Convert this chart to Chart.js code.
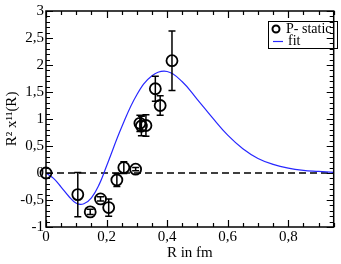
<!DOCTYPE html>
<html>
<head>
<meta charset="utf-8">
<script src="https://cdn.jsdelivr.net/npm/chart.js@4.4.1/dist/chart.umd.min.js"></script>
<style>
  html, body { margin: 0; padding: 0; background: #fff; }
  canvas { display: block; }
</style>
</head>
<body>
<canvas id="chart" width="341" height="264"></canvas>
<script>
// measured points (P- static)
const staticX = [0, 0.105, 0.146, 0.18, 0.207, 0.234, 0.257, 0.296, 0.31, 0.315, 0.33, 0.361, 0.377, 0.416];
const staticY = [0, -0.4, -0.72, -0.48, -0.64, -0.13, 0.1, 0.07, 0.92, 0.87, 0.88, 1.56, 1.25, 2.08];
const staticErr = [0, 0.41, 0.05, 0.04, 0.16, 0.12, 0.11, 0.03, 0.15, 0.18, 0.2, 0.23, 0.18, 0.55];

// fit curve
const fitX = [0, 0.025, 0.05, 0.075, 0.1, 0.125, 0.15, 0.175, 0.2, 0.25, 0.3, 0.35, 0.4, 0.45, 0.5, 0.55, 0.6, 0.65, 0.7, 0.75, 0.8, 0.85, 0.9, 0.95];
const fitY = [0, -0.1, -0.26, -0.43, -0.56, -0.57, -0.46, -0.22, 0.13, 0.85, 1.45, 1.8, 1.88, 1.69, 1.36, 1.02, 0.7, 0.45, 0.27, 0.16, 0.09, 0.05, 0.03, 0.01];

// axes
const xTicks = [0, 0.2, 0.4, 0.6, 0.8];
const yTicks = [-1, -0.5, 0, 0.5, 1, 1.5, 2, 2.5, 3];
const xRange = [0, 0.95];
const yRange = [-1, 3];

const serif = "'Liberation Serif', 'DejaVu Serif', serif";
const fmt = v => String(v).replace(".", ",");

// frame + inward ticks on all four sides
const framePlugin = {
  id: "frame",
  afterDraw(chart) {
    const { ctx, chartArea: a, scales } = chart;
    ctx.save();
    ctx.strokeStyle = "#000";
    ctx.lineWidth = 1.5;
    ctx.strokeRect(a.left, a.top, a.right - a.left, a.bottom - a.top);
    ctx.lineWidth = 1.2;
    ctx.beginPath();
    for (let i = 0; i * 0.05 <= xRange[1] + 1e-9; i++) {
      const px = Math.round(scales.x.getPixelForValue(i * 0.05)) + 0.5;
      const len = i % 4 === 0 ? 7 : 4;
      ctx.moveTo(px, a.bottom); ctx.lineTo(px, a.bottom - len);
      ctx.moveTo(px, a.top); ctx.lineTo(px, a.top + len);
    }
    for (let i = 0; i <= 40; i++) {
      const v = yRange[0] + i * 0.1;
      const py = Math.round(scales.y.getPixelForValue(v)) + 0.5;
      const len = i % 5 === 0 ? 7 : 4;
      ctx.moveTo(a.left, py); ctx.lineTo(a.left + len, py);
      ctx.moveTo(a.right, py); ctx.lineTo(a.right - len, py);
    }
    ctx.stroke();

    // legend
    ctx.lineWidth = 1;
    ctx.strokeRect(268.5, 21.5, 69, 27);
    ctx.lineWidth = 2;
    ctx.beginPath();
    ctx.arc(276, 29, 3.5, 0, Math.PI * 2);
    ctx.stroke();
    ctx.strokeStyle = "rgb(40,40,255)";
    ctx.lineWidth = 1.2;
    ctx.beginPath();
    ctx.moveTo(273, 41.5); ctx.lineTo(283, 41.5);
    ctx.stroke();
    ctx.fillStyle = "#000";
    ctx.font = "14px " + serif;
    ctx.textBaseline = "middle";
    ctx.fillText("P- static", 286, 29);
    ctx.fillText("fit", 288, 41);
    ctx.restore();
  }
};

// vertical error bars for the static points
const errorBarPlugin = {
  id: "errorBars",
  afterDatasetsDraw(chart) {
    const { ctx, scales } = chart;
    ctx.save();
    ctx.strokeStyle = "#000";
    ctx.lineWidth = 1.5;
    ctx.beginPath();
    staticX.forEach((x, i) => {
      if (!staticErr[i]) return;
      const px = scales.x.getPixelForValue(x);
      const top = scales.y.getPixelForValue(staticY[i] + staticErr[i]);
      const bot = scales.y.getPixelForValue(staticY[i] - staticErr[i]);
      ctx.moveTo(px, top); ctx.lineTo(px, bot);
      ctx.moveTo(px - 3.5, top); ctx.lineTo(px + 3.5, top);
      ctx.moveTo(px - 3.5, bot); ctx.lineTo(px + 3.5, bot);
    });
    ctx.stroke();
    ctx.restore();
  }
};

new Chart(document.getElementById("chart"), {
  type: "scatter",
  data: {
    datasets: [
      {
        label: "P- static",
        data: staticX.map((x, i) => ({ x, y: staticY[i] })),
        pointStyle: "circle",
        pointRadius: 5.5,
        borderColor: "#000",
        backgroundColor: "rgba(0,0,0,0)",
        borderWidth: 1.8,
        showLine: false,
        clip: false
      },
      {
        label: "fit",
        data: fitX.map((x, i) => ({ x, y: fitY[i] })),
        showLine: true,
        pointRadius: 0,
        borderColor: "rgb(40,40,255)",
        borderWidth: 1.2,
        tension: 0.4
      },
      {
        label: "zero",
        data: [{ x: xRange[0], y: 0 }, { x: xRange[1], y: 0 }],
        showLine: true,
        pointRadius: 0,
        borderColor: "#000",
        borderWidth: 1.5,
        borderDash: [7, 4]
      }
    ]
  },
  options: {
    responsive: false,
    animation: false,
    devicePixelRatio: 1,
    layout: { padding: { top: 7, right: 3, left: 0, bottom: 0 } },
    plugins: { legend: { display: false }, tooltip: { enabled: false } },
    scales: {
      x: {
        type: "linear",
        min: xRange[0],
        max: xRange[1],
        grid: { display: false, drawTicks: false },
        border: { display: false },
        afterBuildTicks: s => { s.ticks = xTicks.map(v => ({ value: v })); },
        afterFit: s => { s.height = 37; },
        ticks: {
          color: "#000",
          padding: 1,
          maxRotation: 0,
          font: { family: serif, size: 15 },
          callback: v => fmt(v)
        },
        title: {
          display: true,
          text: "R in fm",
          color: "#000",
          font: { family: serif, size: 15 },
          padding: { top: 0, bottom: 2 }
        }
      },
      y: {
        type: "linear",
        min: yRange[0],
        max: yRange[1],
        grid: { display: false, drawTicks: false },
        border: { display: false },
        afterBuildTicks: s => { s.ticks = yTicks.map(v => ({ value: v })); },
        afterFit: s => { s.width = 46; },
        ticks: {
          color: "#000",
          padding: 2,
          font: { family: serif, size: 15 },
          callback: v => fmt(v)
        },
        title: {
          display: true,
          text: "R² x¹¹(R)",
          color: "#000",
          font: { family: serif, size: 15 },
          padding: { top: 3, bottom: 0 }
        }
      }
    }
  },
  plugins: [framePlugin, errorBarPlugin]
});
</script>
</body>
</html>
